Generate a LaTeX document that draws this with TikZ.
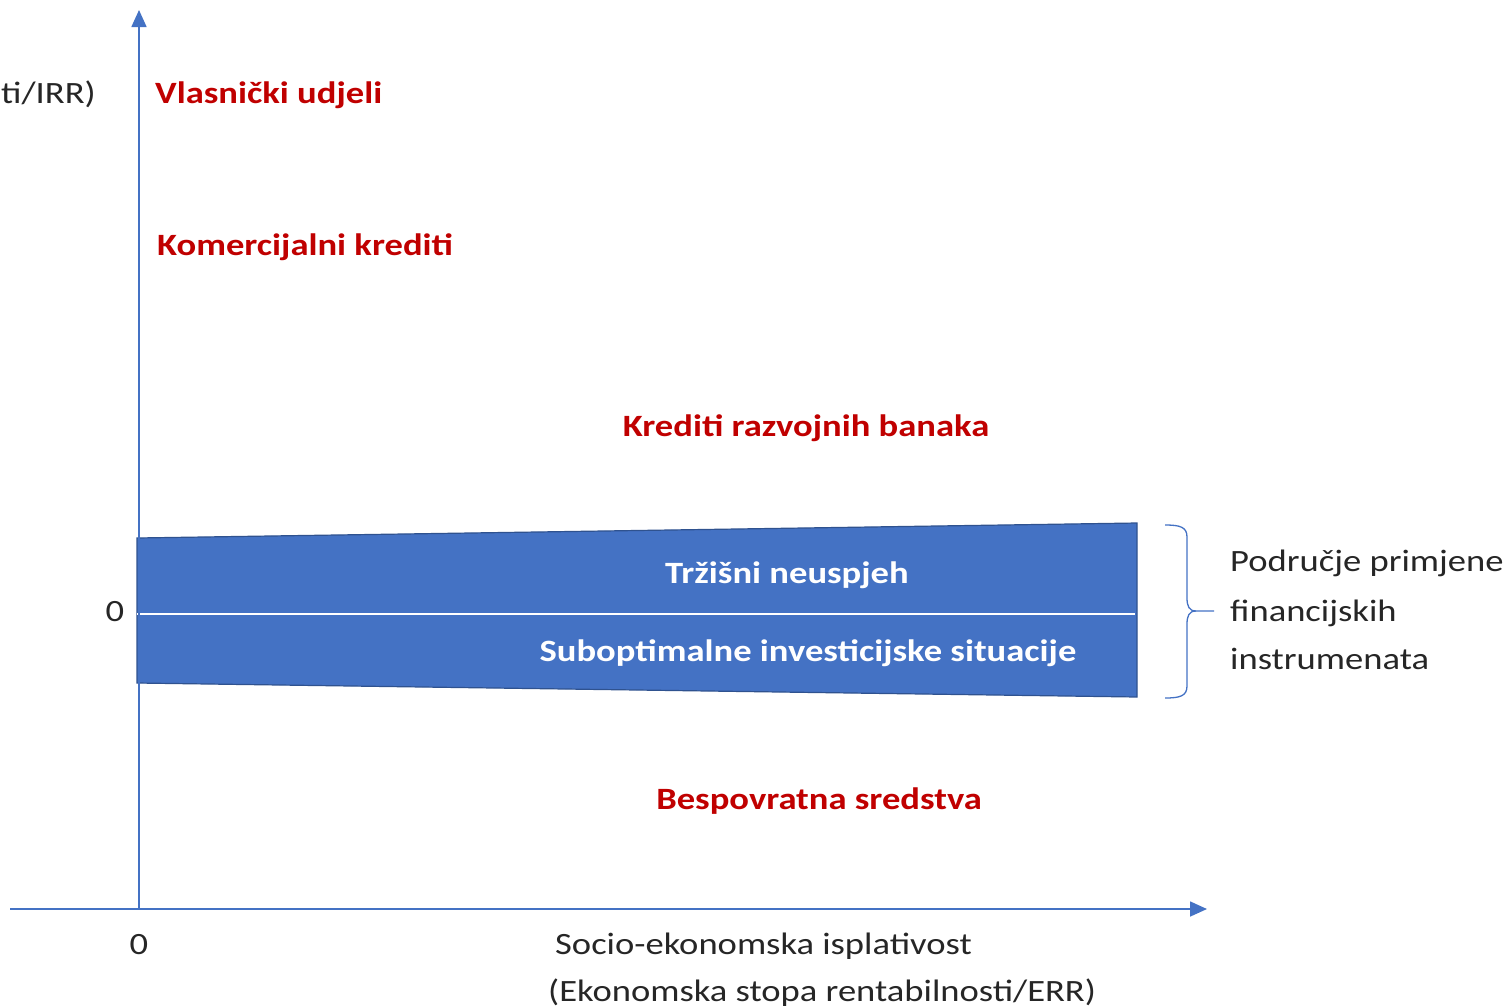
\documentclass[tikz,border=0pt]{standalone}
\usepackage{fontspec}
\setmainfont{Carlito}[FakeStretch=1.18]
\usetikzlibrary{arrows.meta}
\definecolor{axisblue}{HTML}{4472C4}
\definecolor{bandedge}{HTML}{2F528F}
\definecolor{darkred}{HTML}{C00000}
\definecolor{txt}{HTML}{262626}
\tikzset{
  axis/.style={draw=axisblue, line width=1.6pt, -{Triangle[length=17pt,width=15pt]}},
  redlbl/.style={text=darkred, font=\fontsize{31}{37}\selectfont\bfseries, inner sep=0pt},
  whitelbl/.style={text=white, font=\fontsize{31}{37}\selectfont\bfseries, inner sep=0pt},
  plainlbl/.style={text=txt, font=\fontsize{31}{37}\selectfont, inner sep=0pt},
}
\begin{document}
\begin{tikzpicture}[x=1pt,y=-1pt]
\useasboundingbox (0,0) rectangle (1507,1007);
% band
\filldraw[fill=axisblue, draw=bandedge, line width=1.2pt]
  (137,538) -- (1137,523) -- (1137,697) -- (137,683) -- cycle;
\coordinate (mlA) at (137,614);
\coordinate (mlB) at (1135,614);
\draw[white, line width=1.3pt] (mlA) -- (mlB);
% axes
\coordinate (yb) at (139,909);
\coordinate (yt) at (139,10);
\coordinate (xl) at (10,909);
\coordinate (xr) at (1207,909);
\draw[axis] (yb) -- (yt);
\draw[axis] (xl) -- (xr);
% brace
\coordinate (bt) at (1165,525);
\coordinate (bb) at (1165,698);
\coordinate (btip) at (1214,611);
\draw[axisblue, line width=1.3pt]
  (bt) .. controls (1180,525) and (1187,527) .. (1187,537) -- (1187,598)
  .. controls (1187,606) and (1189,611) .. (1196,611) -- (btip);
\draw[axisblue, line width=1.3pt]
  (bb) .. controls (1180,698) and (1187,696) .. (1187,686) -- (1187,624)
  .. controls (1187,616) and (1189,611) .. (1196,611);
% labels
\node[plainlbl, anchor=base west] (irr) at (1,103) {ti/IRR)};
\node[redlbl, anchor=base west] (vl) at (155,103) {Vlasnički udjeli};
\node[redlbl, anchor=base west] (kk) at (157,255) {Komercijalni krediti};
\node[redlbl, anchor=base] (krb) at (806,436) {Krediti razvojnih banaka};
\node[whitelbl, anchor=base] (tn) at (787,583) {Tržišni neuspjeh};
\node[whitelbl, anchor=base] (sis) at (808,661) {Suboptimalne investicijske situacije};
\node[redlbl, anchor=base] (bs) at (819,809) {Bespovratna sredstva};
\node[plainlbl, anchor=base] (zy) at (115,621) {0};
\node[plainlbl, anchor=base] (zx) at (139,954) {0};
\node[plainlbl, anchor=base west] (p1) at (1230,571) {Područje primjene};
\node[plainlbl, anchor=base west] (p2) at (1230,621) {financijskih};
\node[plainlbl, anchor=base west] (p3) at (1230,669) {instrumenata};
\node[plainlbl, anchor=base west] (s1) at (555,954) {Socio-ekonomska isplativost};
\node[plainlbl, anchor=base west] (s2) at (548,1001) {(Ekonomska stopa rentabilnosti/ERR)};
\end{tikzpicture}
\end{document}
